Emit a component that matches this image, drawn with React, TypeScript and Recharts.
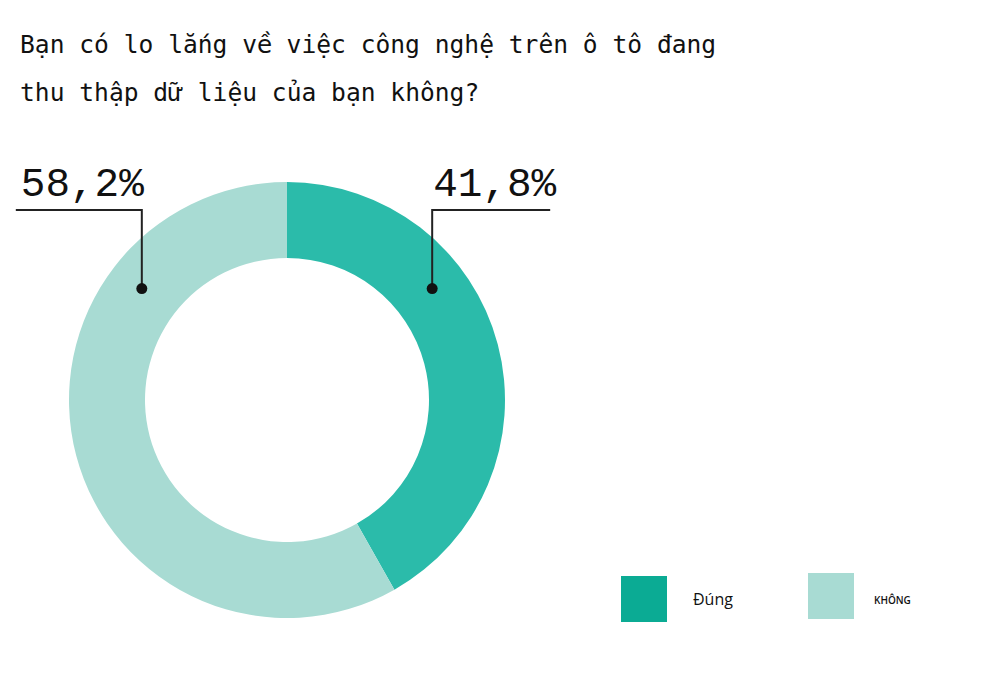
import React from 'react';
import { PieChart, Pie, Cell } from 'recharts';

const titleLines = ['Bạn có lo lắng v\u1ec1 việc công nghệ trên ô tô đang', 'thu thập dữ liệu của bạn không?'];
const categories = ['Đúng', 'KHÔNG'];
const shares = [41.8, 58.2];
const sliceColors = ['#2bbbaa', '#a8dbd3'];
const legendColors = ['#0bab94', '#a8dbd3'];

const data = categories.map((name, i) => ({ name, value: shares[i] }));

const fmt = (v: number) => v.toFixed(1).replace('.', ',') + '%';

// DejaVu Sans Mono lacks a few precomposed Vietnamese glyphs; draw those in a fallback cell
const monoText = (t: string) =>
  Array.from(t).map((ch, i) =>
    ch === '\u1ec1' ? (
      <span
        key={i}
        style={{ fontFamily: "'DejaVu Sans', sans-serif", display: 'inline-block', width: '0.602em', textAlign: 'center' }}
      >
        {ch}
      </span>
    ) : (
      ch
    )
  );

const renderLabel = (props: any) => {
  const { cx, cy, innerRadius, outerRadius, index, value } = props;
  const right = index === 0;
  const r = (innerRadius + outerRadius) / 2 + 3;
  const ang = ((right ? 37.5 : 142.5) * Math.PI) / 180;
  const dx = cx + r * Math.cos(ang);
  const dy = cy - r * Math.sin(ang);
  const topY = cy - 190;
  const endX = right ? dx + 118 : dx - 126;
  return (
    <g key={`lbl-${index}`}>
      <polyline points={`${dx},${dy} ${dx},${topY} ${endX},${topY}`} fill="none" stroke="#222" strokeWidth={2} />
      <circle cx={dx} cy={dy} r={5.5} fill="#111" />
      <text
        x={right ? dx + 1 : dx + 2}
        y={topY - 14}
        textAnchor={right ? 'start' : 'end'}
        fontFamily="'Liberation Mono', monospace"
        fontSize={41}
        fill="#111"
      >
        {fmt(value)}
      </text>
    </g>
  );
};

export default function App() {
  return (
    <div style={{ position: 'absolute', left: 0, top: 0, width: 1000, height: 679, background: '#fff' }}>
      {titleLines.map((t, i) => (
        <div
          key={i}
          style={{
            position: 'absolute',
            left: 20,
            top: 27 + i * 48,
            fontFamily: "'DejaVu Sans Mono', monospace",
            fontSize: 24.6,
            lineHeight: '36px',
            color: '#111',
            whiteSpace: 'nowrap',
          }}
        >
          {monoText(t)}
        </div>
      ))}
      <div style={{ position: 'absolute', left: 0, top: 0 }}>
        <PieChart width={1000} height={679}>
          <Pie
            data={data}
            dataKey="value"
            nameKey="name"
            cx={282}
            cy={395}
            innerRadius={142}
            outerRadius={218}
            startAngle={90}
            endAngle={-270}
            stroke="none"
            label={renderLabel}
            labelLine={false}
            isAnimationActive={false}
          >
            {data.map((d, i) => (
              <Cell key={`cell-${i}`} fill={sliceColors[i]} />
            ))}
          </Pie>
        </PieChart>
      </div>
      {categories.map((c, i) => (
        <div
          key={c}
          style={{
            position: 'absolute',
            left: i === 0 ? 621 : 808,
            top: i === 0 ? 576 : 573,
            display: 'flex',
            alignItems: 'center',
          }}
        >
          <div style={{ width: 46, height: 46, background: legendColors[i] }} />
          <span
            style={{
              marginLeft: i === 0 ? 26 : 20,
              marginTop: i === 0 ? 0 : 8,
              fontFamily: "'Open Sans', sans-serif",
              fontSize: i === 0 ? 16 : 10,
              fontWeight: i === 0 ? 400 : 600,
              color: '#111',
            }}
          >
            {c}
          </span>
        </div>
      ))}
    </div>
  );
}
